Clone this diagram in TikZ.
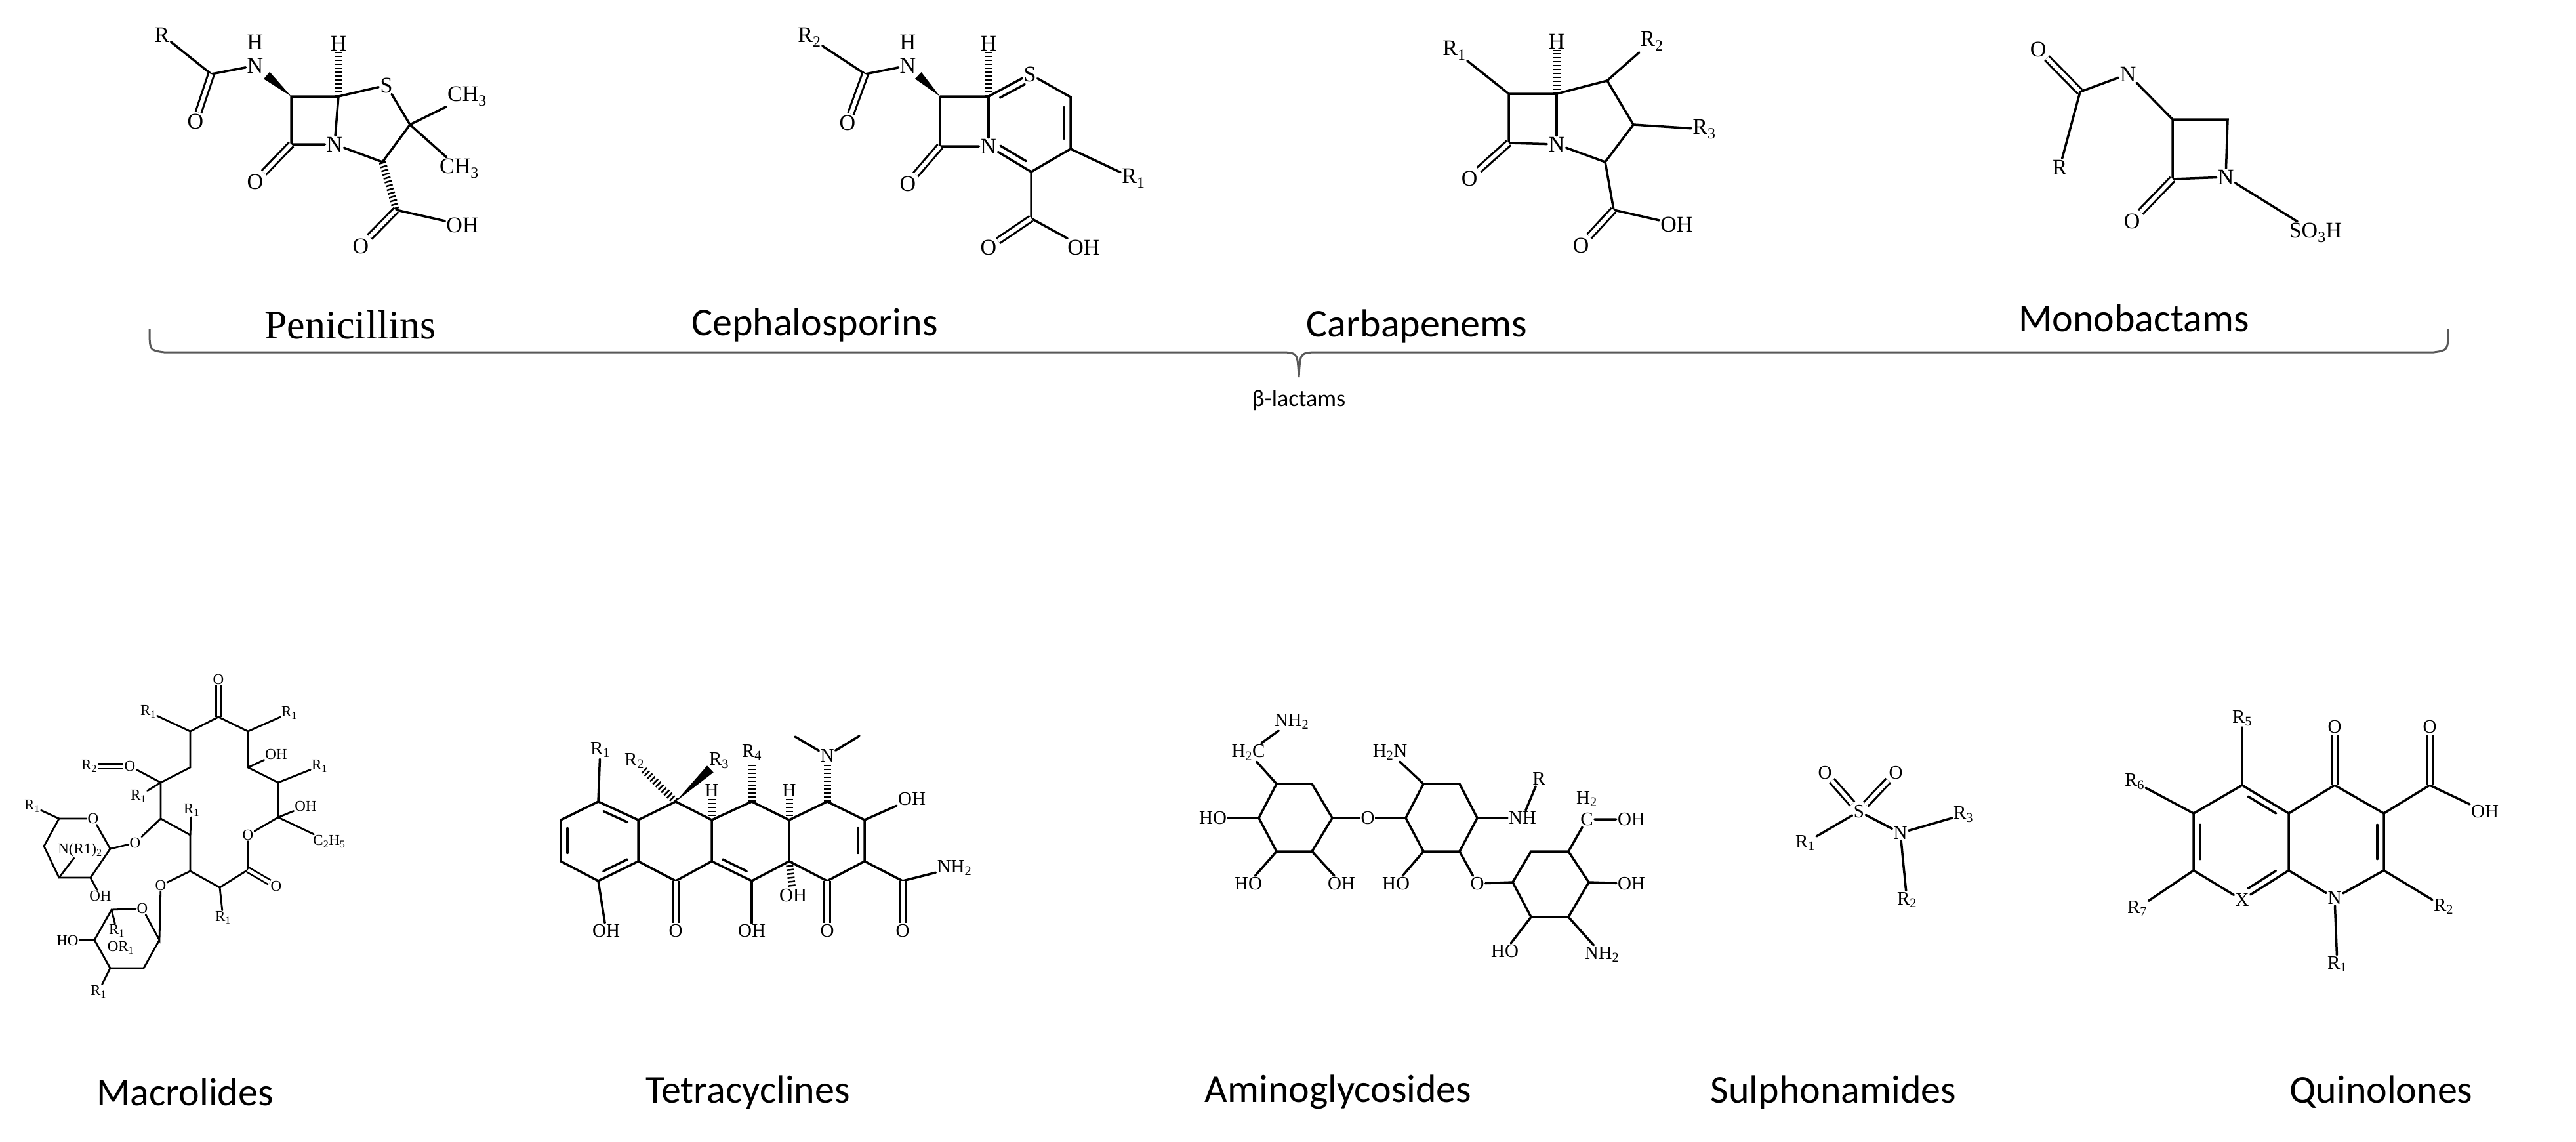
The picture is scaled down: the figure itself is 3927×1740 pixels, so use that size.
\documentclass[tikz,border=0pt]{standalone}
\usepackage{fontspec}
\setmainfont{Carlito}
\newfontfamily\atomf{Liberation Serif}
\usetikzlibrary{calc}
\newcommand\afA{\atomf\fontsize{34}{38}\selectfont}
\newcommand\afB{\atomf\fontsize{29}{32}\selectfont}
\newcommand\afC{\atomf\fontsize{23}{26}\selectfont}
\newcommand\sub[1]{\textsubscript{#1}}
\tikzset{
 bond/.style={line width=3.5pt, line cap=round},
 dbond/.style={line width=3pt, double, double distance=6pt},
 hashb/.style={line width=11pt, dash pattern=on 2.5pt off 3.5pt},
 atA/.style={inner sep=2pt, font=\afA},
 atB/.style={inner sep=2pt, font=\afB},
 atC/.style={inner sep=1.5pt, font=\afC},
 cls/.style={font=\fontsize{60}{70}\selectfont},
}
\newcommand\innb[3]{\draw[bond] ($(#1)!.2!(#2)!10pt!#3:(#2)$) -- ($(#1)!.8!(#2)!10pt!#3:(#2)$);}
\newcommand\wdg[2]{\fill ($(#1)$) -- ($(#2)!7pt!90:(#1)$) -- ($(#2)!7pt!-90:(#1)$) -- cycle;}
\begin{document}
\begin{tikzpicture}[x=1pt,y=-1pt]
\useasboundingbox (0,0) rectangle (3927,1740);
\fill[white] (0,0) rectangle (3927,1740);
% ===== Penicillin
\node[atA] (pR) at (247,53) {R};
\coordinate (pC) at (322,113);
\node[atA] (pO1) at (298,185) {O};
\node[atA] (pN) at (389,100) {N};
\node[atA] (pH1) at (389,64) {H};
\coordinate (pC7) at (444,147);
\coordinate (pC6) at (516,147);
\node[atA] (pH6) at (516,66) {H};
\node[atA] (pS) at (589,130) {S};
\coordinate (pCM) at (625,190);
\node[atA] (pMe1) at (712,147) {CH\sub{3}};
\node[atA] (pMe2) at (700,257) {CH\sub{3}};
\coordinate (pC3) at (583,247);
\node[atA] (pN4) at (510,220) {N};
\coordinate (pC8) at (444,220);
\node[atA] (pO2) at (389,277) {O};
\coordinate (pCc) at (604,320);
\node[atA] (pO3) at (550,375) {O};
\node[atA] (pOH) at (705,343) {OH};
\coordinate (pW) at ($(pC7)!.68!(pN)$);
\draw[bond] (pR) -- (pC) -- (pN);
\draw[dbond] (pC) -- (pO1);
\wdg{pC7}{pW}
\draw[bond] (pC7) -- (pC6) -- (pS) -- (pCM) -- (pC3) -- (pN4) -- (pC8) -- (pC7);
\draw[bond] (pC6) -- (pN4);
\draw[hashb] (pC6) -- (pH6);
\draw[bond] (pCM) -- (pMe1);
\draw[bond] (pCM) -- (pMe2);
\draw[dbond] (pC8) -- (pO2);
\draw[hashb] (pC3) -- (pCc);
\draw[dbond] (pCc) -- (pO3);
\draw[bond] (pCc) -- (pOH);
% ===== Cephalosporin
\node[atA] (cR2) at (1234,57) {R\sub{2}};
\coordinate (cC) at (1319,113);
\node[atA] (cO1) at (1292,187) {O};
\node[atA] (cN) at (1384,100) {N};
\node[atA] (cH1) at (1384,64) {H};
\coordinate (cC7) at (1433,147);
\coordinate (cC6) at (1507,147);
\node[atA] (cH6) at (1507,66) {H};
\node[atA] (cS) at (1570,113) {S};
\coordinate (cCa) at (1632,148);
\coordinate (cCb) at (1632,227);
\node[atA] (cR1) at (1728,272) {R\sub{1}};
\coordinate (cC2) at (1572,262);
\node[atA] (cN4) at (1507,223) {N};
\coordinate (cC8) at (1433,223);
\node[atA] (cO2) at (1384,280) {O};
\coordinate (cCc) at (1572,333);
\node[atA] (cO3) at (1507,377) {O};
\node[atA] (cOH) at (1652,377) {OH};
\coordinate (cW) at ($(cC7)!.68!(cN)$);
\draw[bond] (cR2) -- (cC) -- (cN);
\draw[dbond] (cC) -- (cO1);
\wdg{cC7}{cW}
\draw[bond] (cC7) -- (cC6) -- (cS) -- (cCa) -- (cCb) -- (cC2) -- (cN4) -- (cC8) -- (cC7);
\draw[bond] (cC6) -- (cN4);
\innb{cC6}{cS}{-90}
\innb{cCa}{cCb}{-90}
\innb{cC2}{cN4}{-90}
\draw[hashb] (cC6) -- (cH6);
\draw[bond] (cCb) -- (cR1);
\draw[dbond] (cC8) -- (cO2);
\draw[bond] (cC2) -- (cCc) -- (cOH);
\draw[dbond] (cCc) -- (cO3);
% ===== Carbapenem
\node[atA] (kR1) at (2217,77) {R\sub{1}};
\coordinate (kC1) at (2300,143);
\coordinate (kC5) at (2373,143);
\node[atA] (kH) at (2373,63) {H};
\coordinate (kC4) at (2450,123);
\node[atA] (kR2) at (2518,63) {R\sub{2}};
\coordinate (kC3) at (2490,190);
\node[atA] (kR3) at (2598,197) {R\sub{3}};
\coordinate (kC2) at (2447,247);
\node[atA] (kN) at (2373,220) {N};
\coordinate (kC7) at (2300,218);
\node[atA] (kO) at (2240,272) {O};
\coordinate (kCc) at (2460,320);
\node[atA] (kO2) at (2410,374) {O};
\node[atA] (kOH) at (2556,342) {OH};
\draw[bond] (kR1) -- (kC1) -- (kC5) -- (kC4) -- (kC3) -- (kC2) -- (kN) -- (kC7) -- (kC1);
\draw[bond] (kN) -- (kC5);
\draw[hashb] (kC5) -- (kH);
\draw[bond] (kC4) -- (kR2);
\draw[bond] (kC3) -- (kR3);
\draw[dbond] (kC7) -- (kO);
\draw[bond] (kC2) -- (kCc) -- (kOH);
\draw[dbond] (kCc) -- (kO2);
% ===== Monobactam
\node[atA] (mO) at (3107,75) {O};
\coordinate (mC) at (3171,140);
\node[atA] (mN) at (3244,113) {N};
\node[atA] (mR) at (3140,255) {R};
\coordinate (mC3) at (3312,182);
\coordinate (mC4) at (3396,182);
\node[atA] (mN1) at (3393,270) {N};
\coordinate (mC2) at (3312,273);
\node[atA] (mO2) at (3250,337) {O};
\node[atA] (mS) at (3530,355) {SO\sub{3}H};
\draw[dbond] (mC) -- (mO);
\draw[bond] (mR) -- (mC) -- (mN) -- (mC3) -- (mC4) -- (mN1) -- (mC2) -- (mC3);
\draw[dbond] (mC2) -- (mO2);
\draw[bond] (mN1) -- (mS);
% ===== top labels and brace
\node[font=\atomf\fontsize{62}{70}\selectfont] (lPen) at (534,495) {Penicillins};
\node[cls] (lCep) at (1242,495) {Cephalosporins};
\node[cls] (lCar) at (2160,497) {Carbapenems};
\node[cls] (lMon) at (3253,485) {Monobactams};
\draw[line width=3pt, gray!70!black] (228,502) .. controls (228,534) .. (250,537) -- (1960,537) .. controls (1978,539) .. (1980,575) .. controls (1982,539) .. (2000,537) -- (3710,537) .. controls (3732,534) .. (3732,502);
\node[font=\fontsize{36}{40}\selectfont] (lBeta) at (1980,610) {β-lactams};
% ===== Macrolide
\node[atC] (aO0) at (333,1036) {O};
\coordinate (aCO) at (333,1093);
\node[atC] (aR1a) at (226,1085) {R\sub{1}};
\coordinate (aCL) at (290,1115);
\coordinate (aCR) at (378,1115);
\node[atC] (aR1b) at (441,1087) {R\sub{1}};
\coordinate (aCL2) at (290,1170);
\coordinate (aCR2) at (378,1170);
\node[atC] (aOH1) at (421,1150) {OH};
\coordinate (aCa) at (424,1193);
\node[atC] (aR1c) at (487,1168) {R\sub{1}};
\coordinate (aCb) at (424,1246);
\node[atC] (aOH2) at (466,1229) {OH};
\node[atC] (aEt) at (502,1283) {C\sub{2}H\sub{5}};
\node[atC] (aOr) at (378,1273) {O};
\coordinate (aCe) at (378,1326);
\node[atC] (aOe) at (421,1351) {O};
\coordinate (aCd) at (335,1353);
\node[atC] (aR1d) at (340,1399) {R\sub{1}};
\coordinate (aCf) at (290,1328);
\node[atC] (aOg) at (245,1350) {O};
\coordinate (aCg) at (290,1273);
\node[atC] (aR1f) at (292,1235) {R\sub{1}};
\coordinate (aCh) at (245,1248);
\coordinate (aCi) at (245,1193);
\node[atC] (aR1h) at (211,1214) {R\sub{1}};
\node[atC] (aOi) at (198,1168) {O};
\node[atC] (aR2) at (136,1168) {R\sub{2}};
\node[atC] (aOs) at (206,1285) {O};
\draw[dbond, line width=2.5pt, double distance=5pt] (aCO) -- (aO0);
\draw[bond, line width=2.8pt] (aR1a) -- (aCL) -- (aCO) -- (aCR) -- (aR1b);
\draw[bond, line width=2.8pt] (aCL) -- (aCL2) -- (aCi) -- (aCh) -- (aCg) -- (aCf) -- (aCd) -- (aCe) -- (aOr) -- (aCb) -- (aCa) -- (aCR2) -- (aCR);
\draw[bond, line width=2.8pt] (aCR2) -- (aOH1);
\draw[bond, line width=2.8pt] (aCa) -- (aR1c);
\draw[bond, line width=2.8pt] (aCb) -- (aOH2);
\draw[bond, line width=2.8pt] (aCb) -- (aEt);
\draw[dbond, line width=2.5pt, double distance=5pt] (aCe) -- (aOe);
\draw[bond, line width=2.8pt] (aCd) -- (aR1d);
\draw[bond, line width=2.8pt] (aCf) -- (aOg);
\draw[bond, line width=2.8pt] (aCg) -- (aR1f);
\draw[bond, line width=2.8pt] (aCi) -- (aR1h);
\draw[bond, line width=2.8pt] (aCi) -- (aOi);
\draw[dbond, line width=2.5pt, double distance=5pt] (aOi) -- (aR2);
\draw[bond, line width=2.8pt] (aCh) -- (aOs);
% sugar 1
\coordinate (b1a) at (168,1294);
\node[atC] (b1O) at (142,1248) {O};
\coordinate (b1b) at (90,1248);
\node[atC] (b1R) at (49,1229) {R\sub{1}};
\coordinate (b1c) at (67,1290);
\coordinate (b1d) at (90,1338);
\coordinate (b1e) at (138,1338);
\node[atC] (b1OH) at (153,1366) {OH};
\node[atC, fill=white] (b1N) at (122,1296) {N(R1)\sub{2}};
\draw[bond, line width=2.8pt] (b1a) -- (b1O) -- (b1b) -- (b1c) -- (b1d) -- (b1e) -- (b1a);
\draw[bond, line width=2.8pt] (b1b) -- (b1R);
\draw[bond, line width=2.8pt] (b1e) -- (b1OH);
\draw[bond, line width=2.8pt] (b1d) -- (b1N);
\draw[bond, line width=2.8pt] (aOs) -- (b1a);
% sugar 2
\coordinate (b2a) at (243,1433);
\node[atC] (b2O) at (217,1385) {O};
\coordinate (b2b) at (170,1387);
\coordinate (b2c) at (144,1433);
\node[atC] (b2HO) at (103,1434) {HO};
\coordinate (b2d) at (168,1476);
\coordinate (b2e) at (219,1476);
\node[atC] (b2R1) at (150,1512) {R\sub{1}};
\node[atC] (b2R1b) at (178,1419) {R\sub{1}};
\node[atC] (b2OR) at (184,1445) {OR\sub{1}};
\draw[bond, line width=2.8pt] (aOg) -- (b2a) -- (b2O) -- (b2b) -- (b2c) -- (b2d) -- (b2e) -- (b2a);
\draw[bond, line width=2.8pt] (b2c) -- (b2HO);
\draw[bond, line width=2.8pt] (b2d) -- (b2R1);
\draw[bond, line width=2.8pt] (b2b) -- (b2R1b);
% ===== Tetracycline
\coordinate (tA1) at (912,1222);
\coordinate (tA2) at (855,1250);
\coordinate (tA3) at (855,1313);
\coordinate (tA4) at (912,1343);
\coordinate (tA5) at (973,1313);
\coordinate (tA6) at (973,1250);
\coordinate (tB1) at (1030,1222);
\coordinate (tB2) at (1085,1250);
\coordinate (tB3) at (1085,1313);
\coordinate (tB4) at (1030,1343);
\coordinate (tC1) at (1146,1222);
\coordinate (tC2) at (1203,1250);
\coordinate (tC3) at (1203,1313);
\coordinate (tC4) at (1146,1343);
\coordinate (tD1) at (1261,1222);
\coordinate (tD2) at (1318,1250);
\coordinate (tD3) at (1318,1313);
\coordinate (tD4) at (1261,1343);
\coordinate (tAm) at (1376,1343);
\node[atB] (tR1) at (915,1143) {R\sub{1}};
\node[atB] (tR2) at (967,1160) {R\sub{2}};
\node[atB] (tR3) at (1096,1160) {R\sub{3}};
\node[atB] (tR4) at (1146,1147) {R\sub{4}};
\node[atB] (tH1) at (1085,1205) {H};
\node[atB] (tH2) at (1203,1205) {H};
\node[atB] (tN) at (1261,1152) {N};
\coordinate (tMe1) at (1212,1123);
\coordinate (tMe2) at (1310,1122);
\node[atB] (tOHd) at (1390,1218) {OH};
\node[atB] (tNH2) at (1455,1323) {NH\sub{2}};
\node[atB] (tOHa) at (924,1419) {OH};
\node[atB] (tOb) at (1030,1419) {O};
\node[atB] (tOHc) at (1146,1419) {OH};
\node[atB] (tOd) at (1261,1419) {O};
\node[atB] (tOam) at (1376,1419) {O};
\node[atB] (tOHm) at (1209,1365) {OH};
\coordinate (tW) at ($(tB1)!.8!(tR3)$);
\draw[bond] (tA1) -- (tA2) -- (tA3) -- (tA4) -- (tA5) -- (tA6) -- cycle;
\draw[bond] (tA6) -- (tB1) -- (tB2) -- (tB3) -- (tB4) -- (tA5);
\draw[bond] (tB2) -- (tC1) -- (tC2) -- (tC3) -- (tC4) -- (tB3);
\draw[bond] (tC2) -- (tD1) -- (tD2) -- (tD3) -- (tD4) -- (tC3);
\innb{tA1}{tA6}{-90}
\innb{tA2}{tA3}{90}
\innb{tA4}{tA5}{90}
\innb{tB3}{tC4}{90}
\innb{tD2}{tD3}{-90}
\draw[bond] (tA1) -- (tR1);
\draw[hashb] (tB1) -- (tR2);
\wdg{tB1}{tW}
\draw[hashb] (tB2) -- (tH1);
\draw[hashb] (tC1) -- (tR4);
\draw[hashb] (tC2) -- (tH2);
\draw[hashb] (tD1) -- (tN);
\draw[bond] (tMe1) -- (tN) -- (tMe2);
\draw[bond] (tD2) -- (tOHd);
\draw[bond] (tD3) -- (tAm) -- (tNH2);
\draw[dbond] (tAm) -- (tOam);
\draw[bond] (tA4) -- (tOHa);
\draw[dbond] (tB4) -- (tOb);
\draw[bond] (tC4) -- (tOHc);
\draw[dbond] (tD4) -- (tOd);
\draw[hashb] (tC3) -- (tOHm);
% ===== Aminoglycoside
\begin{scope}[xshift=55pt]
\coordinate (g1a) at (1891,1195);
\coordinate (g1b) at (1945,1195);
\coordinate (g1c) at (1976,1247);
\coordinate (g1d) at (1945,1298);
\coordinate (g1e) at (1891,1298);
\coordinate (g1f) at (1864,1247);
\node[atB] (gH2C) at (1848,1147) {H\sub{2}C};
\node[atB] (gNH2a) at (1914,1100) {NH\sub{2}};
\node[atB] (gHO1) at (1794,1247) {HO};
\node[atB] (gHO2) at (1848,1347) {HO};
\node[atB] (gOH3) at (1990,1347) {OH};
\node[atB] (gO1) at (2030,1247) {O};
\coordinate (g2a) at (2088,1247);
\coordinate (g2b) at (2115,1195);
\coordinate (g2c) at (2170,1195);
\coordinate (g2d) at (2197,1247);
\coordinate (g2e) at (2170,1298);
\coordinate (g2f) at (2115,1298);
\node[atB] (gH2N) at (2064,1147) {H\sub{2}N};
\node[atB] (gNH) at (2266,1247) {NH};
\node[atB] (gR) at (2291,1187) {R};
\node[atB] (gHO4) at (2073,1347) {HO};
\node[atB] (gO2) at (2197,1347) {O};
\coordinate (g3a) at (2251,1345);
\coordinate (g3b) at (2279,1298);
\coordinate (g3c) at (2336,1298);
\coordinate (g3d) at (2367,1345);
\coordinate (g3e) at (2336,1398);
\coordinate (g3f) at (2279,1398);
\node[atB] (gC) at (2364,1249) {C};
\node[atB] (gCH) at (2364,1218) {H\sub{2}};
\node[atB] (gOH5) at (2432,1249) {OH};
\node[atB] (gOH6) at (2432,1347) {OH};
\node[atB] (gHO7) at (2239,1450) {HO};
\node[atB] (gNH2b) at (2387,1455) {NH\sub{2}};
\draw[bond] (g1a) -- (g1b) -- (g1c) -- (g1d) -- (g1e) -- (g1f) -- cycle;
\draw[bond] (g1a) -- (gH2C) -- (gNH2a);
\draw[bond] (g1f) -- (gHO1);
\draw[bond] (g1e) -- (gHO2);
\draw[bond] (g1d) -- (gOH3);
\draw[bond] (g1c) -- (gO1) -- (g2a);
\draw[bond] (g2a) -- (g2b) -- (g2c) -- (g2d) -- (g2e) -- (g2f) -- cycle;
\draw[bond] (g2b) -- (gH2N);
\draw[bond] (g2d) -- (gNH) -- (gR);
\draw[bond] (g2f) -- (gHO4);
\draw[bond] (g2e) -- (gO2) -- (g3a);
\draw[bond] (g3a) -- (g3b) -- (g3c) -- (g3d) -- (g3e) -- (g3f) -- cycle;
\draw[bond] (g3c) -- (gC) -- (gOH5);
\draw[bond] (g3d) -- (gOH6);
\draw[bond] (g3f) -- (gHO7);
\draw[bond] (g3e) -- (gNH2b);
\end{scope}
% ===== Sulphonamide
\node[atB] (sS) at (2834,1237) {S};
\node[atB] (sO1) at (2782,1178) {O};
\node[atB] (sO2) at (2890,1178) {O};
\node[atB] (sR1) at (2752,1285) {R\sub{1}};
\node[atB] (sN) at (2897,1270) {N};
\node[atB] (sR3) at (2993,1242) {R\sub{3}};
\node[atB] (sR2) at (2907,1372) {R\sub{2}};
\draw[dbond] (sS) -- (sO1);
\draw[dbond] (sS) -- (sO2);
\draw[bond] (sR1) -- (sS) -- (sN) -- (sR3);
\draw[bond] (sN) -- (sR2);
% ===== Quinolone
\coordinate (q1) at (3418,1197);
\coordinate (q2) at (3344,1240);
\coordinate (q3) at (3344,1327);
\node[atB] (qX) at (3418,1372) {X};
\coordinate (q5) at (3489,1327);
\coordinate (q6) at (3489,1240);
\coordinate (q7) at (3559,1197);
\coordinate (q8) at (3634,1240);
\coordinate (q9) at (3634,1327);
\node[atB] (qN) at (3559,1369) {N};
\coordinate (qc) at (3704,1197);
\node[atB] (qR5) at (3418,1095) {R\sub{5}};
\node[atB] (qR6) at (3254,1192) {R\sub{6}};
\node[atB] (qR7) at (3258,1385) {R\sub{7}};
\node[atB] (qO1) at (3559,1108) {O};
\node[atB] (qO2) at (3704,1108) {O};
\node[atB] (qOH) at (3788,1237) {OH};
\node[atB] (qR1) at (3563,1470) {R\sub{1}};
\node[atB] (qR2) at (3725,1382) {R\sub{2}};
\draw[bond] (q1) -- (q2) -- (q3) -- (qX) -- (q5) -- (q6) -- (q1);
\draw[bond] (q6) -- (q7) -- (q8) -- (q9) -- (qN) -- (q5);
\innb{q1}{q6}{-90}
\innb{q2}{q3}{90}
\innb{qX}{q5}{90}
\innb{q8}{q9}{-90}
\draw[bond] (q1) -- (qR5);
\draw[bond] (q2) -- (qR6);
\draw[bond] (q3) -- (qR7);
\draw[dbond] (q7) -- (qO1);
\draw[bond] (q8) -- (qc) -- (qOH);
\draw[dbond] (qc) -- (qO2);
\draw[bond] (qN) -- (qR1);
\draw[bond] (q9) -- (qR2);
% ===== bottom labels
\node[cls] (lMac) at (282,1665) {Macrolides};
\node[cls] (lTet) at (1140,1665) {Tetracyclines};
\node[cls] (lAmi) at (2040,1665) {Aminoglycosides};
\node[cls] (lSul) at (2795,1665) {Sulphonamides};
\node[cls] (lQui) at (3630,1665) {Quinolones};
\end{tikzpicture}
\end{document}
